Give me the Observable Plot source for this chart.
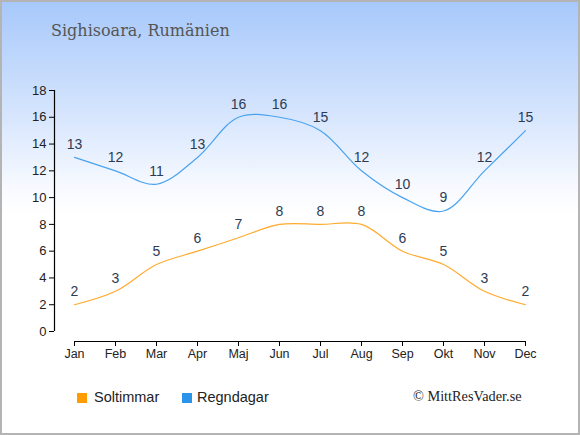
<!DOCTYPE html>
<html>
<head>
<meta charset="utf-8">
<script src="https://cdn.jsdelivr.net/npm/d3@7"></script>
<script src="https://cdn.jsdelivr.net/npm/@observablehq/plot@0.6"></script>
<style>
  html, body { margin: 0; padding: 0; background: #fff; }
  #wrap {
    position: relative; width: 580px; height: 435px; overflow: hidden;
    background: linear-gradient(to bottom, #a6c8fb 0px, #d4e4fd 110px, #f6f9ff 185px, #ffffff 215px, #ffffff 435px);
    box-shadow: inset 0 0 0 2px #b4b4b4;
    font-family: "Liberation Sans", Arial, sans-serif;
  }
  #title {
    position: absolute; left: 51px; top: 21px;
    font-family: "DejaVu Serif", serif; font-size: 16px; color: #555;
  }
  #chart { position: absolute; left: 0; top: 0; }
  .leg { position: absolute; top: 389px; font-size: 14.5px; color: #222; }
  .sw { position: absolute; top: 393px; width: 10px; height: 10px; }
  #copy {
    position: absolute; left: 413px; top: 388px;
    font-family: "Liberation Serif", serif; font-size: 14.3px; color: #222;
  }
</style>
</head>
<body>
<div id="wrap">
  <div id="title">Sighisoara, Rumänien</div>
  <div id="chart"></div>
  <div class="sw" style="left:77px;background:#ff9c00"></div>
  <div class="leg" style="left:94px">Soltimmar</div>
  <div class="sw" style="left:182px;background:#2b94e8"></div>
  <div class="leg" style="left:197px">Regndagar</div>
  <div id="copy">© MittResVader.se</div>
</div>
<script>
const months = ["Jan","Feb","Mar","Apr","Maj","Jun","Jul","Aug","Sep","Okt","Nov","Dec"];
const soltimmar = [2,3,5,6,7,8,8,8,6,5,3,2];
const regndagar = [13,12,11,13,16,16,15,12,10,9,12,15];
const yTicks = [0,2,4,6,8,10,12,14,16,18];

const sun = months.map((m, i) => ({month: m, value: soltimmar[i]}));
const rain = months.map((m, i) => ({month: m, value: regndagar[i]}));

const chart = Plot.plot({
  width: 580,
  height: 370,
  marginTop: 90,
  marginBottom: 29,
  marginLeft: 54,
  marginRight: 35,
  insetBottom: 10,
  style: {background: "transparent", fontFamily: "'Liberation Sans', Arial, sans-serif", color: "#222"},
  x: {type: "point", domain: months, range: [74, 525], padding: 0, round: false},
  y: {domain: [0, 18]},
  marks: [
    Plot.axisY({ticks: yTicks, tickSize: 5, tickPadding: 3, fontSize: 13, label: null, stroke: "#000", fill: "#222"}),
    Plot.axisX({tickSize: 5, tickPadding: 3, fontSize: 12.5, label: null, stroke: "#000", fill: "#222"}),
    Plot.ruleX(["Jan"], {y1: 0, y2: 18, dx: -20, stroke: "#000", strokeWidth: 1.2}),
    Plot.ruleY([0], {x1: () => "Jan", x2: () => "Dec", dy: 10, stroke: "#000", strokeWidth: 1.2}),
    Plot.line(sun, {x: "month", y: "value", stroke: "#ffab2e", strokeWidth: 1.2, curve: "catmull-rom"}),
    Plot.line(rain, {x: "month", y: "value", stroke: "#4aa3ef", strokeWidth: 1.2, curve: "catmull-rom"}),
    Plot.text(sun, {x: "month", y: "value", text: "value", dy: -13, fontSize: 14, fill: "#2d3b55"}),
    Plot.text(rain, {x: "month", y: "value", text: "value", dy: -13, fontSize: 14, fill: "#2d3b55"})
  ]
});
document.getElementById("chart").appendChild(chart);
</script>
</body>
</html>
